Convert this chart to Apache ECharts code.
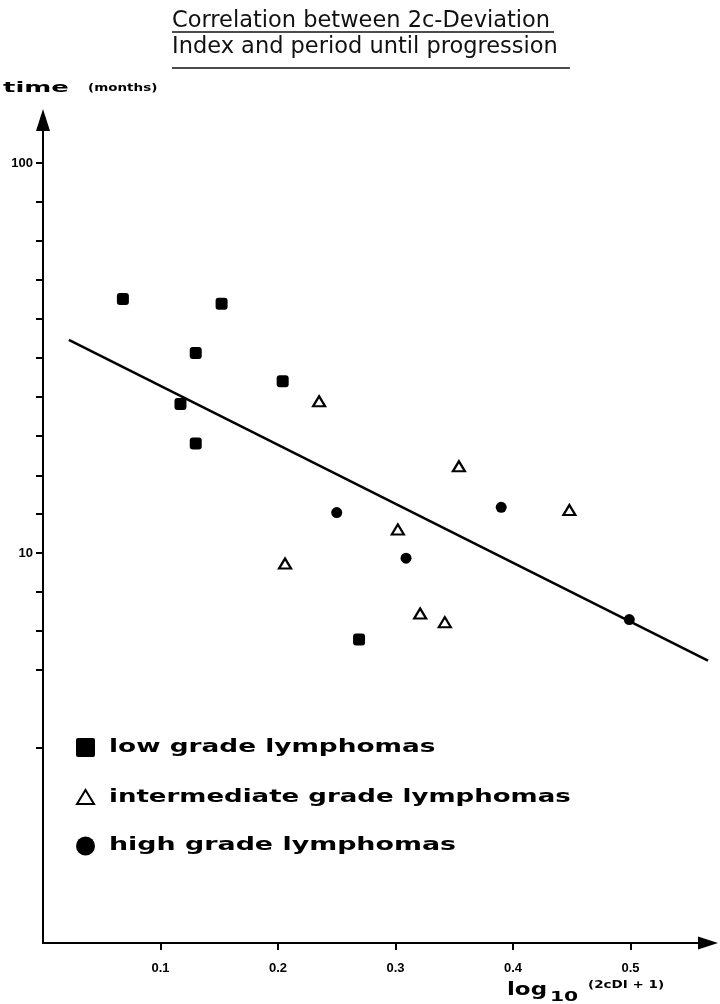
<!DOCTYPE html>
<html>
<head>
<meta charset="utf-8">
<script src="https://cdn.jsdelivr.net/npm/echarts@6/dist/echarts.min.js"></script>
<style>
html, body { margin: 0; padding: 0; background: #fff; }
#main { width: 720px; height: 1004px; }
</style>
</head>
<body>
<div id="main"></div>
<script>
// values: x = log10(2cDI + 1), y = time in months
var lowX = [0.068, 0.152, 0.130, 0.204, 0.117, 0.130, 0.269];
var lowY = [44.8, 43.6, 32.6, 27.6, 24.1, 19.1, 6.0];
var midX = [0.235, 0.354, 0.302, 0.206, 0.321, 0.342, 0.448];
var midY = [24.5, 16.7, 11.5, 9.4, 7.0, 6.65, 12.9];
var highX = [0.250, 0.309, 0.390, 0.499];
var highY = [12.7, 9.7, 13.1, 6.75];
// regression line end points
var fitX = [0.022, 0.566];
var fitY = [35.2, 5.3];

var xTicks = [0.1, 0.2, 0.3, 0.4, 0.5];
var yLabels = [10, 100];
var yTicks = [100, 79.4, 63.1, 50.1, 39.8, 31.6, 25.1, 20, 15.8, 12.6, 10, 7.94, 6.31, 5.01, 3.16];

var legendNames = ['low grade lymphomas', 'intermediate grade lymphomas', 'high grade lymphomas'];
var titleLines = ['Correlation between 2c-Deviation', 'Index and period until progression'];

function pts(xs, ys) {
    return xs.map(function (x, i) { return [x, ys[i]]; });
}

var myChart = echarts.init(document.getElementById('main'));
var ink = '#000';
var font = 'DejaVu Sans';

var option = {
    backgroundColor: '#fff',
    animation: false,
    grid: { left: 43, right: 12, top: 120, bottom: 61 },
    xAxis: {
        type: 'value',
        min: 0,
        max: 0.566,
        splitLine: { show: false },
        axisLine: {
            lineStyle: { color: ink, width: 2 },
            symbol: ['none', 'triangle'],
            symbolSize: [13, 20]
        },
        axisTick: { customValues: xTicks, length: 7, lineStyle: { color: ink, width: 2 } },
        axisLabel: {
            customValues: xTicks,
            margin: 19,
            color: ink,
            fontFamily: 'Liberation Sans',
            fontWeight: 'bold',
            fontSize: 13,
            formatter: function (v) { return v.toFixed(1); }
        }
    },
    yAxis: {
        type: 'log',
        logBase: 10,
        min: 1,
        max: 129,
        splitLine: { show: false },
        axisLine: {
            lineStyle: { color: ink, width: 2 },
            symbol: ['none', 'triangle'],
            symbolSize: [14, 22]
        },
        axisTick: { customValues: yTicks, length: 7, lineStyle: { color: ink, width: 2 } },
        axisLabel: {
            customValues: yLabels,
            margin: 10,
            color: ink,
            fontFamily: 'Liberation Sans',
            fontWeight: 'bold',
            fontSize: 13
        }
    },
    series: [{
        type: 'line',
        data: pts(fitX, fitY),
        symbol: 'none',
        lineStyle: { color: ink, width: 2.5 },
        z: 1
    }, {
        name: legendNames[0],
        type: 'scatter',
        data: pts(lowX, lowY),
        symbol: 'roundRect',
        symbolSize: 12,
        itemStyle: { color: ink, opacity: 1 },
        z: 3
    }, {
        name: legendNames[1],
        type: 'scatter',
        data: pts(midX, midY),
        symbol: 'triangle',
        symbolSize: [12, 10],
        itemStyle: { color: '#fff', borderColor: ink, borderWidth: 2.2, opacity: 1 },
        z: 3
    }, {
        name: legendNames[2],
        type: 'scatter',
        data: pts(highX, highY),
        symbol: 'circle',
        symbolSize: 11,
        itemStyle: { color: ink, opacity: 1 },
        z: 3
    }],
    graphic: [
        // title with underlines
        { type: 'text', x: 172, y: 21, style: { text: titleLines[0], font: '22.5px "' + font + '"', fill: '#111', verticalAlign: 'middle' } },
        { type: 'line', shape: { x1: 172, y1: 32, x2: 554, y2: 32 }, style: { stroke: '#111', lineWidth: 1.6 } },
        { type: 'text', x: 172, y: 47, style: { text: titleLines[1], font: '22.5px "' + font + '"', fill: '#111', verticalAlign: 'middle' } },
        { type: 'line', shape: { x1: 172, y1: 68, x2: 570, y2: 68 }, style: { stroke: '#111', lineWidth: 1.6 } },
        // axis names
        { type: 'text', x: 3, y: 88, scaleX: 1.85, style: { text: 'time', font: 'bold 14px "' + font + '"', fill: ink, verticalAlign: 'middle' } },
        { type: 'text', x: 88, y: 88, scaleX: 1.35, style: { text: '(months)', font: 'bold 10px "' + font + '"', fill: ink, verticalAlign: 'middle' } },
        { type: 'text', x: 507, y: 991, scaleX: 1.35, style: { text: 'log', font: 'bold 17px "' + font + '"', fill: ink, verticalAlign: 'middle' } },
        { type: 'text', x: 550, y: 997, scaleX: 1.45, style: { text: '10', font: 'bold 14px "' + font + '"', fill: ink, verticalAlign: 'middle' } },
        { type: 'text', x: 588, y: 985, scaleX: 1.35, style: { text: '(2cDI + 1)', font: 'bold 10px "' + font + '"', fill: ink, verticalAlign: 'middle' } },
        // legend
        { type: 'rect', shape: { x: 76, y: 738, width: 19, height: 19, r: 2 }, style: { fill: ink } },
        { type: 'text', x: 109, y: 748, scaleX: 1.55, style: { text: legendNames[0], font: 'bold 17px "' + font + '"', fill: ink, verticalAlign: 'middle' } },
        { type: 'polygon', shape: { points: [[77, 804], [85.5, 790], [94, 804]] }, style: { fill: '#fff', stroke: ink, lineWidth: 2 } },
        { type: 'text', x: 109, y: 798, scaleX: 1.53, style: { text: legendNames[1], font: 'bold 17px "' + font + '"', fill: ink, verticalAlign: 'middle' } },
        { type: 'circle', shape: { cx: 85.5, cy: 846, r: 9.5 }, style: { fill: ink } },
        { type: 'text', x: 109, y: 846, scaleX: 1.58, style: { text: legendNames[2], font: 'bold 17px "' + font + '"', fill: ink, verticalAlign: 'middle' } }
    ]
};

myChart.setOption(option);
</script>
</body>
</html>
